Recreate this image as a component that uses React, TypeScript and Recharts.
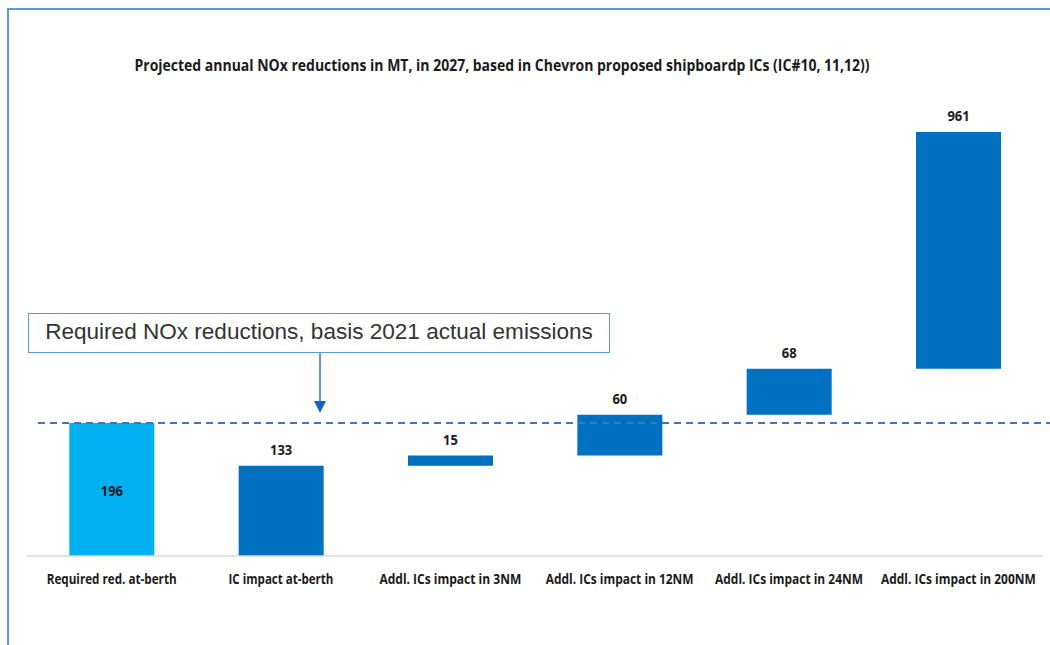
import React from "react";
import { ComposedChart, Bar, XAxis, YAxis, ReferenceLine, LabelList, Cell } from "recharts";

const categories = [
  "Required red. at-berth",
  "IC impact at-berth",
  "Addl. ICs impact in 3NM",
  "Addl. ICs impact in 12NM",
  "Addl. ICs impact in 24NM",
  "Addl. ICs impact in 200NM",
];
// reported values (labels)
const values = [196, 133, 15, 60, 68, 961];
// waterfall start of each floating bar
const bases = [0, 0, 133, 148, 208, 276];
// drawn height of each bar (last bar is shown truncated in the reference)
const drawn = [196, 133, 15, 60, 68, 349];
const colors = ["#00B0F0", "#0070C0", "#0070C0", "#0070C0", "#0070C0", "#0070C0"];
const requiredLevel = 196;
const title = "Projected annual NOx reductions in MT, in 2027, based in Chevron proposed shipboardp ICs (IC#10, 11,12))";
const annotation = "Required NOx reductions, basis 2021 actual emissions";

const tickWidths = [130, 105, 142, 148, 148, 155];

const data = categories.map((c, i) => ({
  name: c,
  base: bases[i],
  drawn: drawn[i],
  value: values[i],
}));

const FONT = "'Open Sans'";

let canvasCtx: CanvasRenderingContext2D | null = null;
function measure(text: string, font: string): number {
  if (!canvasCtx) {
    const c = document.createElement("canvas");
    canvasCtx = c.getContext("2d");
  }
  if (!canvasCtx) return text.length * 8;
  canvasCtx.font = font;
  return canvasCtx.measureText(text).width;
}

const FitText = ({ x, y, text, width, size, bold, family, fill }: any) => {
  const fam = family || FONT;
  const w = measure(text, `${bold ? "bold " : ""}${size}px ${fam}`);
  const sx = w > 0 ? width / w : 1;
  return (
    <text transform={`translate(${x},${y}) scale(${sx},1)`} x={0} y={0} textAnchor="middle" dominantBaseline="middle"
      fontFamily={fam} fontWeight={bold ? "bold" : "normal"} fontSize={size} fill={fill || "#1a1a1a"}>{text}</text>
  );
};

const renderLabel = (props: any) => {
  const { x, y, width, height, index } = props;
  const v = String(values[index]);
  const cy = index === 0 ? y + height / 2 + 2 : y - 15;
  return <FitText x={x + width / 2} y={cy} text={v} width={v.length * 7.4} size={15} bold />;
};

const Tick = (props: any) => {
  const { x, y, payload, index } = props;
  const i = index !== undefined ? index : categories.indexOf(payload.value);
  return <FitText x={x} y={y + 16} text={payload.value} width={tickWidths[i]} size={15} bold />;
};

const DashedLine = (props: any) => {
  const y = props.y1 !== undefined ? props.y1 : props.y;
  return <line x1={38} x2={1050} y1={y} y2={y} stroke="#4472C4" strokeWidth={2} strokeDasharray="7 5" />;
};

export default function App() {
  return (
    <div style={{ position: "absolute", left: 0, top: 0, width: 1050, height: 645, background: "#fff", overflow: "hidden" }}>
      <div style={{ position: "absolute", left: 7, top: 8, width: 1100, height: 700, borderLeft: "2px solid #5B9BD5", borderTop: "2px solid #5B9BD5" }} />
      <div style={{ position: "absolute", left: 0, top: 0 }}>
        <ComposedChart width={1050} height={645} data={data} margin={{ top: 81, right: 7, bottom: 59, left: 27 }} barCategoryGap="25%">
          <XAxis dataKey="name" axisLine={{ stroke: "#D9D9D9", strokeWidth: 1.5 }} tickLine={false} height={30} interval={0}
            tick={<Tick />} />
          <YAxis hide domain={[0, 700]} />
          <Bar dataKey="base" stackId="w" fill="transparent" isAnimationActive={false} />
          <Bar dataKey="drawn" stackId="w" isAnimationActive={false}>
            {data.map((d, i) => (
              <Cell key={i} fill={colors[i]} />
            ))}
            <LabelList dataKey="value" content={renderLabel} />
          </Bar>
          <ReferenceLine y={requiredLevel} ifOverflow="visible" shape={DashedLine} />
        </ComposedChart>
      </div>
      <div style={{ position: "absolute", left: 28, top: 313, width: 582, height: 40, border: "1.5px solid #5B9BD5", background: "#fff", boxSizing: "border-box" }} />
      <svg style={{ position: "absolute", left: 0, top: 0 }} width={1050} height={645} pointerEvents="none">
        <FitText x={502} y={67} text={title} width={736} size={16} bold />
        <FitText x={319} y={333} text={annotation} width={548} size={22} family="'Liberation Sans'" fill="#333" />
        <line x1={320} y1={353} x2={320} y2={402} stroke="#2E75D6" strokeWidth={1.5} />
        <polygon points="314,401 326,401 320,413" fill="#1565C0" />
      </svg>
    </div>
  );
}
